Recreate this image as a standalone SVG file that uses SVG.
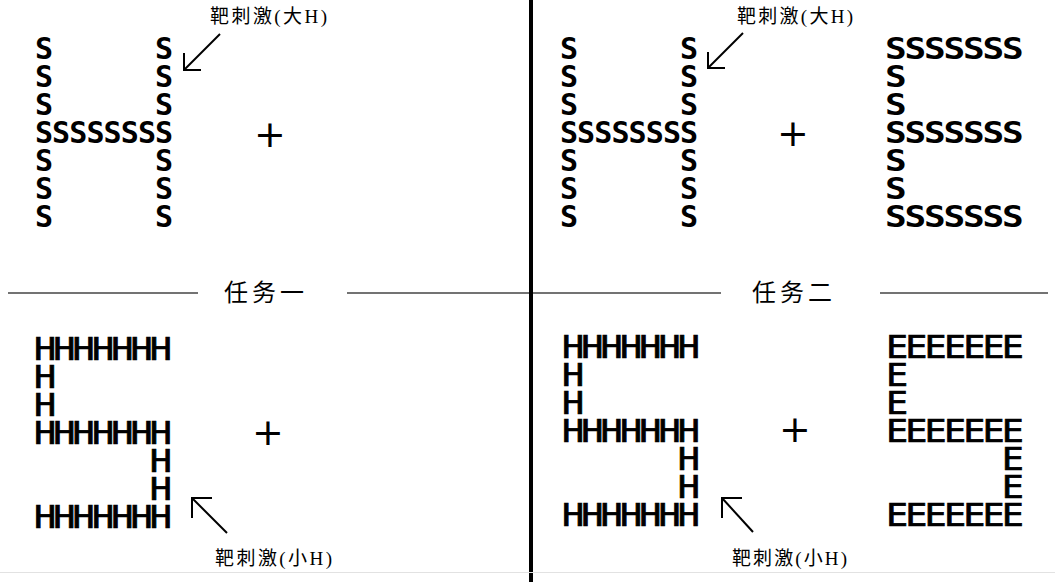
<svg xmlns="http://www.w3.org/2000/svg" width="1055" height="582" viewBox="0 0 1055 582">
<style>
.bg{fill:#ffffff}
.s{font-family:"DejaVu Sans Mono",monospace;font-weight:bold;font-size:30px;fill:#000}
.h{font-family:"DejaVu Sans Mono",monospace;font-weight:normal;font-size:32px;fill:#000;stroke:#000;stroke-width:0.7}
.plus{font-family:"DejaVu Sans",sans-serif;font-size:38px;fill:#000;text-anchor:middle}
.lbl{font-family:"Liberation Serif","Noto Sans CJK SC",serif;font-size:19px;fill:#000}
.task{font-family:"Noto Sans CJK SC",sans-serif;font-size:24px;fill:#000}
.rule{stroke:#444;stroke-width:1.5;fill:none}
.arr{stroke:#000;stroke-width:2;fill:none}
</style>
<rect class="bg" x="0" y="0" width="1055" height="582"/>
<g id="dividers">
<line class="rule" x1="8" y1="293" x2="198" y2="293"/>
<line class="rule" x1="347" y1="293" x2="721" y2="293"/>
<line class="rule" x1="880" y1="293" x2="1048" y2="293"/>
<line x1="531" y1="0" x2="531" y2="582" stroke="#000" stroke-width="4"/>
<line x1="0" y1="572.5" x2="1055" y2="572.5" stroke="#e2e2e2" stroke-width="1"/>
</g>
<g id="task1-label"><text class="task" x="224" y="301" textLength="80" lengthAdjust="spacing">任务一</text></g>
<g id="task2-label"><text class="task" x="752" y="301" textLength="80" lengthAdjust="spacing">任务二</text></g>

<g id="tl-large-H-of-S">
<text class="s" x="35 155 35 155 35 155 35 52.1 69.3 86.4 103.6 120.7 137.9 155 35 155 35 155 35 155" y="59 59 87 87 115 115 143 143 143 143 143 143 143 143 171 171 199 199 227 227">SSSSSSSSSSSSSSSSSSSS</text>
</g>
<g id="tl-plus"><text class="plus" x="270" y="147">+</text></g>
<g id="tl-label"><text class="lbl" x="210" y="23" textLength="117" lengthAdjust="spacing">靶刺激(大H)</text></g>

<g id="tr-large-H-of-S">
<text class="s" x="560 680 560 680 560 680 560 577.1 594.3 611.4 628.6 645.7 662.9 680 560 680 560 680 560 680" y="59 59 87 87 115 115 143 143 143 143 143 143 143 143 171 171 199 199 227 227">SSSSSSSSSSSSSSSSSSSS</text>
</g>
<g id="tr-plus"><text class="plus" x="793" y="146">+</text></g>
<g id="tr-label"><text class="lbl" x="737" y="23" textLength="116" lengthAdjust="spacing">靶刺激(大H)</text></g>

<g id="tr-large-E-of-S" transform="translate(885 0) scale(1.2 1)">
<text class="s" x="0 16.25 32.5 48.75 65 81.25 97.5 0 0 0 16.25 32.5 48.75 65 81.25 97.5 0 0 0 16.25 32.5 48.75 65 81.25 97.5" y="59 59 59 59 59 59 59 87 115 143 143 143 143 143 143 143 171 199 227 227 227 227 227 227 227">SSSSSSSSSSSSSSSSSSSSSSSSS</text>
</g>

<g id="bl-large-S-of-H" transform="translate(34 0) scale(1.15 1)">
<text class="h" x="0 16.78 33.57 50.35 67.13 83.91 100.7 0 0 0 16.78 33.57 50.35 67.13 83.91 100.7 100.7 100.7 0 16.78 33.57 50.35 67.13 83.91 100.7" y="360 360 360 360 360 360 360 388 416 444 444 444 444 444 444 444 472 500 528 528 528 528 528 528 528">HHHHHHHHHHHHHHHHHHHHHHHHH</text>
</g>
<g id="bl-plus"><text class="plus" x="268" y="445">+</text></g>
<g id="bl-label"><text class="lbl" x="215" y="565" textLength="117" lengthAdjust="spacing">靶刺激(小H)</text></g>

<g id="br-large-S-of-H" transform="translate(562 0) scale(1.15 1)">
<text class="h" x="0 16.78 33.57 50.35 67.13 83.91 100.7 0 0 0 16.78 33.57 50.35 67.13 83.91 100.7 100.7 100.7 0 16.78 33.57 50.35 67.13 83.91 100.7" y="358 358 358 358 358 358 358 386 414 442 442 442 442 442 442 442 470 498 526 526 526 526 526 526 526">HHHHHHHHHHHHHHHHHHHHHHHHH</text>
</g>
<g id="br-plus"><text class="plus" x="795" y="442">+</text></g>
<g id="br-label"><text class="lbl" x="732" y="565" textLength="115" lengthAdjust="spacing">靶刺激(小H)</text></g>

<g id="br-large-S-of-E" transform="translate(886 0) scale(1.15 1)">
<text class="h" x="0 16.78 33.57 50.35 67.13 83.91 100.7 0 0 0 16.78 33.57 50.35 67.13 83.91 100.7 100.7 100.7 0 16.78 33.57 50.35 67.13 83.91 100.7" y="358 358 358 358 358 358 358 386 414 442 442 442 442 442 442 442 470 498 526 526 526 526 526 526 526">EEEEEEEEEEEEEEEEEEEEEEEEE</text>
</g>

<g id="connectors">
<line class="arr" x1="220" y1="34" x2="184" y2="70"/>
<polyline class="arr" points="184,53 184,70 201,70"/>
<line class="arr" x1="743" y1="33" x2="708" y2="68"/>
<polyline class="arr" points="708,52 708,68 725,68"/>
<line class="arr" x1="227" y1="533" x2="192" y2="498"/>
<polyline class="arr" points="212,498 192,498 192,518"/>
<line class="arr" x1="753" y1="532" x2="722" y2="498"/>
<polyline class="arr" points="742,498 722,498 722,518"/>
</g>
</svg>
